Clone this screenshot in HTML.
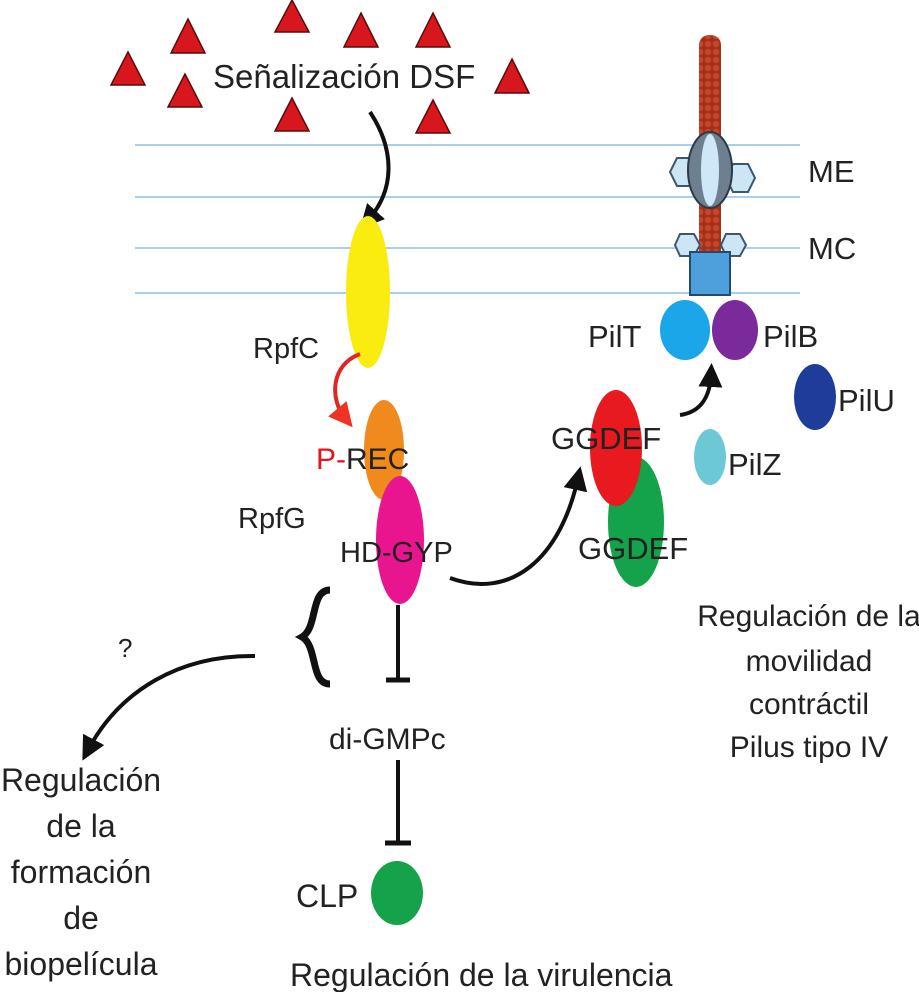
<!DOCTYPE html>
<html><head><meta charset="utf-8"><style>
html,body{margin:0;padding:0;background:#fff}
svg{display:block;font-family:"Liberation Sans",Arial,sans-serif}
</style></head><body>
<svg width="919" height="992" viewBox="0 0 919 992" xmlns="http://www.w3.org/2000/svg">
<defs>
<marker id="ab" markerWidth="6" markerHeight="6" refX="3" refY="3" orient="auto"><path d="M0,0 L6,3 L0,6 z" fill="#111"/></marker>
<marker id="ar" markerWidth="6" markerHeight="6" refX="3" refY="3" orient="auto"><path d="M0,0 L6,3 L0,6 z" fill="#e32"/></marker>
<pattern id="beads" width="8" height="8" patternUnits="userSpaceOnUse"><rect width="8" height="8" fill="#a33018"/><circle cx="4" cy="4" r="3.2" fill="#c8452a"/></pattern>
</defs>
<g stroke="#a8d0ec" stroke-width="2">
<line x1="135" y1="145" x2="800" y2="145"/><line x1="135" y1="197" x2="800" y2="197"/>
<line x1="135" y1="248" x2="800" y2="248"/><line x1="135" y1="293" x2="800" y2="293"/>
</g>
<g fill="#d8161e" stroke="#5a0a0a" stroke-width="1.5">
<path d="M128,52 L145,85 L111,85 z"/><path d="M188,19 L205,53 L171,53 z"/><path d="M185,74 L202,107 L168,107 z"/>
<path d="M292,0 L309,32 L275,32 z"/><path d="M361,13 L378,47 L344,47 z"/><path d="M433,13 L450,47 L416,47 z"/>
<path d="M292,98 L309,131 L275,131 z"/><path d="M433,100 L450,133 L416,133 z"/><path d="M512,59 L529,93 L495,93 z"/>
</g>
<text x="213" y="88" font-size="33" fill="#222">Señalización DSF</text>
<path d="M370,112 C395,150 395,190 368,220" fill="none" stroke="#111" stroke-width="4" marker-end="url(#ab)"/>
<ellipse cx="368" cy="292" rx="22" ry="76" fill="#fbec10"/>
<text x="253" y="358" font-size="29" fill="#222">RpfC</text>
<path d="M360,354 C330,365 330,400 345,418" fill="none" stroke="#e02525" stroke-width="4" marker-end="url(#ar)"/>
<ellipse cx="384" cy="450" rx="20" ry="50" fill="#f08a1c"/>
<ellipse cx="400" cy="540" rx="24" ry="64" fill="#e8158f"/>
<text x="316" y="469" font-size="30" fill="#222"><tspan fill="#e8141c">P-</tspan>REC</text>
<text x="238" y="528" font-size="29" fill="#222">RpfG</text>
<text x="340" y="562" font-size="29" fill="#222">HD-GYP</text>
<path d="M450,578 C510,600 560,560 578,478" fill="none" stroke="#111" stroke-width="4" marker-end="url(#ab)"/>
<ellipse cx="636" cy="522" rx="28" ry="65" fill="#14a24a"/>
<ellipse cx="616" cy="448" rx="26" ry="58" fill="#e8191f"/>
<text x="551" y="449" font-size="31" fill="#222">GGDEF</text>
<text x="578" y="559" font-size="31" fill="#222">GGDEF</text>
<rect x="699" y="35" width="22" height="110" rx="10" fill="url(#beads)"/>
<rect x="699" y="200" width="22" height="60" fill="url(#beads)"/>
<g fill="#cde6f6" stroke="#3c5870" stroke-width="2">
<polygon points="670,172 677,158 692,158 699,172 692,186 677,186"/>
<polygon points="726,178 733,164 748,164 755,178 748,192 733,192"/>
<polygon points="675,245 680,234 694,234 700,245 694,256 680,256"/>
<polygon points="721,245 726,234 740,234 746,245 740,256 726,256"/>
</g>
<ellipse cx="710" cy="170" rx="22" ry="38" fill="#6e8090" stroke="#2c3a48" stroke-width="2"/>
<ellipse cx="710" cy="170" rx="9" ry="36" fill="#cfe8f8"/>
<rect x="690" y="252" width="40" height="43" fill="#4da0dc" stroke="#234a6a" stroke-width="2"/>
<ellipse cx="685" cy="330" rx="25" ry="30" fill="#1aa6e8"/>
<ellipse cx="735" cy="330" rx="23" ry="30" fill="#7a2a9a"/>
<ellipse cx="815" cy="397" rx="21" ry="33" fill="#1e3c9a"/>
<ellipse cx="710" cy="457" rx="16" ry="28" fill="#6cc8d4"/>
<path d="M680,415 C702,412 710,395 711,375" fill="none" stroke="#111" stroke-width="4" marker-end="url(#ab)"/>
<g font-size="31" fill="#222">
<text x="808" y="182">ME</text><text x="808" y="259">MC</text>
<text x="588" y="347">PilT</text><text x="763" y="347">PilB</text>
<text x="838" y="411">PilU</text><text x="728" y="475">PilZ</text>
</g>
<path d="M330,590 C310,590 318,628 302,637 C318,646 310,684 330,684" fill="none" stroke="#111" stroke-width="7"/>
<line x1="398" y1="605" x2="398" y2="680" stroke="#111" stroke-width="4"/>
<line x1="386" y1="680" x2="410" y2="680" stroke="#111" stroke-width="5"/>
<text x="329" y="749" font-size="30" fill="#222">di-GMPc</text>
<line x1="398" y1="760" x2="398" y2="842" stroke="#111" stroke-width="4"/>
<line x1="385" y1="843" x2="411" y2="843" stroke="#111" stroke-width="5"/>
<ellipse cx="397" cy="893" rx="26" ry="32" fill="#16a24a"/>
<text x="296" y="907" font-size="32" fill="#222">CLP</text>
<text x="290" y="986" font-size="32" fill="#222">Regulación de la virulencia</text>
<path d="M255,656 C180,655 120,690 88,750" fill="none" stroke="#111" stroke-width="4" marker-end="url(#ab)"/>
<text x="118" y="657" font-size="26" fill="#222">?</text>
<g font-size="32" fill="#222" text-anchor="middle">
<text x="81" y="791">Regulación</text><text x="81" y="837">de la</text><text x="81" y="883">formación</text>
<text x="81" y="929">de</text><text x="81" y="975">biopelícula</text>
</g>
<g font-size="30" fill="#222" text-anchor="middle">
<text x="809" y="626">Regulación de la</text><text x="809" y="671">movilidad</text>
<text x="809" y="714">contráctil</text><text x="809" y="757">Pilus tipo IV</text>
</g>
</svg>
</body></html>
